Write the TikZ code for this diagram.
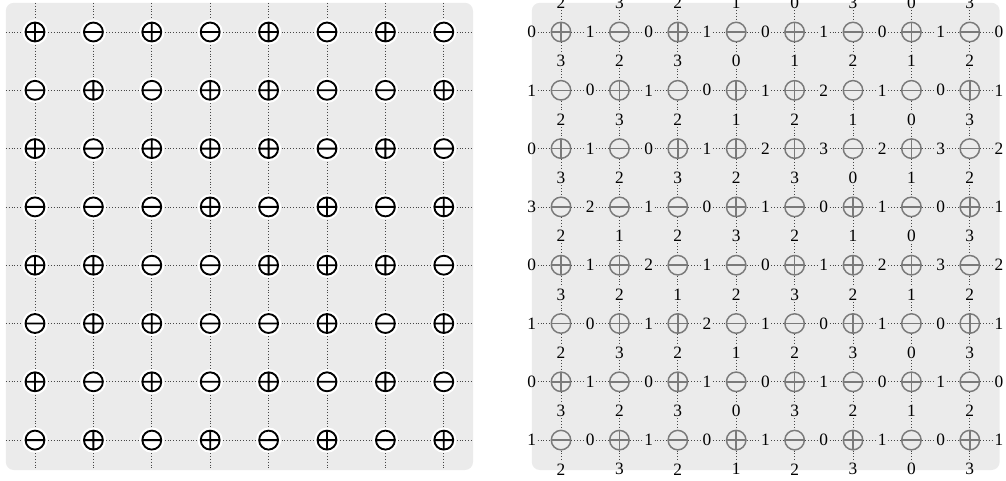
\documentclass[tikz,border=0pt]{standalone}
\usepackage{fontspec}
\setmainfont{Liberation Serif}
\usepackage{tikz}
\usetikzlibrary{positioning}
\definecolor{panelgray}{RGB}{235,235,235}
\definecolor{symgray}{RGB}{122,122,122}
\definecolor{dotgray}{RGB}{70,70,70}

\newcommand{\signrows}{{p,m,p,m,p,m,p,m},{m,p,m,p,p,m,m,p},{p,m,p,p,p,m,p,m},{m,m,m,p,m,p,m,p},{p,p,m,m,p,p,p,m},{m,p,p,m,m,p,m,p},{p,m,p,m,p,m,p,m},{m,p,m,p,m,p,m,p}}
\newcommand{\hlabrows}{{0,1,0,1,0,1,0,1,0},{1,0,1,0,1,2,1,0,1},{0,1,0,1,2,3,2,3,2},{3,2,1,0,1,0,1,0,1},{0,1,2,1,0,1,2,3,2},{1,0,1,2,1,0,1,0,1},{0,1,0,1,0,1,0,1,0},{1,0,1,0,1,0,1,0,1}}
\newcommand{\vlabrows}{{2,3,2,1,0,3,0,3},{3,2,3,0,1,2,1,2},{2,3,2,1,2,1,0,3},{3,2,3,2,3,0,1,2},{2,1,2,3,2,1,0,3},{3,2,1,2,3,2,1,2},{2,3,2,1,2,3,0,3},{3,2,3,0,3,2,1,2},{2,3,2,1,2,3,0,3}}

\begin{document}
\begin{tikzpicture}[
  x=0.75pt,y=-0.75pt,
  panel/.style={fill=panelgray,rounded corners=6pt},
  grid/.style={dotgray,line width=0.55pt,dash pattern=on 0.55pt off 1.6pt},
  lsym/.style={circle,fill=white,inner sep=0pt,minimum size=19pt},
  lm/.style={lsym,path picture={
    \coordinate (o) at (path picture bounding box.center);
    \draw[line width=1.4pt] (o) circle[radius=7.1pt]
      ([xshift=-7.1pt]o) -- ([xshift=7.1pt]o);}},
  lp/.style={lsym,path picture={
    \coordinate (o) at (path picture bounding box.center);
    \draw[line width=1.4pt] (o) circle[radius=7.1pt]
      ([xshift=-7.1pt]o) -- ([xshift=7.1pt]o)
      ([yshift=-7.1pt]o) -- ([yshift=7.1pt]o);}},
  rsym/.style={circle,draw=symgray,line width=1.1pt,fill=panelgray,inner sep=0pt,minimum size=14.6pt},
  rm/.style={rsym,path picture={
    \coordinate (o) at (path picture bounding box.center);
    \draw[symgray,line width=1.1pt] ([xshift=-7.4pt]o) -- ([xshift=7.4pt]o);}},
  rp/.style={rsym,path picture={
    \coordinate (o) at (path picture bounding box.center);
    \draw[symgray,line width=1.1pt] ([xshift=-7.4pt]o) -- ([xshift=7.4pt]o)
      ([yshift=-7.4pt]o) -- ([yshift=7.4pt]o);}},
  lab/.style={inner sep=1pt,font=\fontsize{13}{15}\selectfont}
]
\useasboundingbox (0,0) rectangle (1006,480);
\fill[panel] (5.8,2.8) rectangle (473,470);
\fill[panel] (531.8,2.8) rectangle (999.6,470);

% sign nodes, left and right
\foreach \signs [count=\r] in \signrows {
  \foreach \s [count=\c] in \signs {
    \node[l\s] (l-\r-\c) at ({35+(\c-1)*58.4},{32+(\r-1)*58.3}) {};
    \node[r\s] (r-\r-\c) at ({561+(\c-1)*58.4},{32+(\r-1)*58.3}) {};
  }
}

% edge labels, right
\foreach \labs [count=\r] in \hlabrows {
  \foreach \v [count=\k from 0] in \labs
    \node[lab] (h-\r-\k) at ({561+(\k-0.5)*58.4},{32+(\r-1)*58.3}) {\v};
}
\foreach \labs [count=\k from 0] in \vlabrows {
  \foreach \v [count=\c] in \labs
    \node[lab] (v-\k-\c) at ({561+(\c-1)*58.4},{32+(\k-0.5)*58.3}) {\v};
}

% left grid
\foreach \i in {1,...,8} {
  \coordinate (lw-\i) at (5.8,{32+(\i-1)*58.3});
  \coordinate (le-\i) at (473,{32+(\i-1)*58.3});
  \coordinate (ln-\i) at ({35+(\i-1)*58.4},2.8);
  \coordinate (ls-\i) at ({35+(\i-1)*58.4},470);
  \draw[grid] (lw-\i) -- (l-\i-1);
  \draw[grid] (l-\i-8) -- (le-\i);
  \draw[grid] (ln-\i) -- (l-1-\i);
  \draw[grid] (l-8-\i) -- (ls-\i);
  \foreach \j [evaluate=\j as \n using int(\j+1)] in {1,...,7} {
    \draw[grid] (l-\i-\j) -- (l-\i-\n);
    \draw[grid] (l-\j-\i) -- (l-\n-\i);
  }
}

% right grid
\foreach \i in {1,...,8} {
  \foreach \j [evaluate=\j as \p using int(\j-1)] in {1,...,8} {
    \draw[grid] (h-\i-\p) -- (r-\i-\j);
    \draw[grid] (r-\i-\j) -- (h-\i-\j);
    \draw[grid] (v-\p-\i) -- (r-\j-\i);
    \draw[grid] (r-\j-\i) -- (v-\j-\i);
  }
}
\end{tikzpicture}
\end{document}
